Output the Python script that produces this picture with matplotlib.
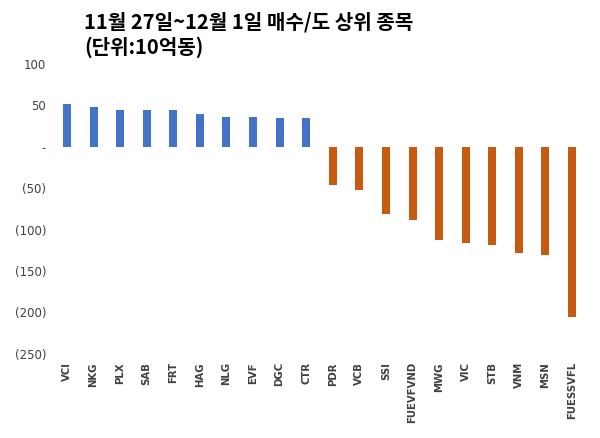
import matplotlib
matplotlib.use("Agg")
import matplotlib.pyplot as plt

cats = ["VCI","NKG","PLX","SAB","FRT","HAG","NLG","EVF","DGC","CTR",
        "PDR","VCB","SSI","FUEVFVND","MWG","VIC","STB","VNM","MSN","FUESSVFL"]
vals = [52,48,45,45,45,40,36,36,35,35,
        -46,-52,-81,-88,-112,-116,-119,-128,-131,-205]
yticks = [100,50,0,-50,-100,-150,-200,-250]
ylabels = ["100","50","-","(50)","(100)","(150)","(200)","(250)"]

plt.rcParams["font.family"] = ["Noto Sans CJK KR", "Noto Sans CJK JP", "Noto Sans CJK SC", "DejaVu Sans"]
fig = plt.figure(figsize=(6,4.38), dpi=100)
ax = fig.add_axes([0.085, 0.192, 0.895, 0.662])
colors = ["#4472C4" if v > 0 else "#C55A11" for v in vals]
ax.bar(range(len(cats)), vals, width=0.3, color=colors)
ax.set_ylim(-250, 100)
ax.set_xlim(-0.6, len(cats)-0.4)
ax.set_yticks(yticks)
ax.set_yticklabels(ylabels, fontsize=8.5, color="#404040", family="DejaVu Sans")
ax.set_xticks(range(len(cats)))
ax.set_xticklabels(cats, rotation=90, fontsize=7.3, fontweight="bold", color="#404040", family="DejaVu Sans")
for s in ax.spines.values():
    s.set_visible(False)
ax.tick_params(length=0)
ax.tick_params(axis="x", pad=6)
fig.text(0.14, 0.935, "11월 27일~12월 1일 매수/도 상위 종목", fontsize=14.5, fontweight="bold")
fig.text(0.14, 0.877, "(단위:10억동)", fontsize=14.5, fontweight="bold")
fig.savefig("out.png")
